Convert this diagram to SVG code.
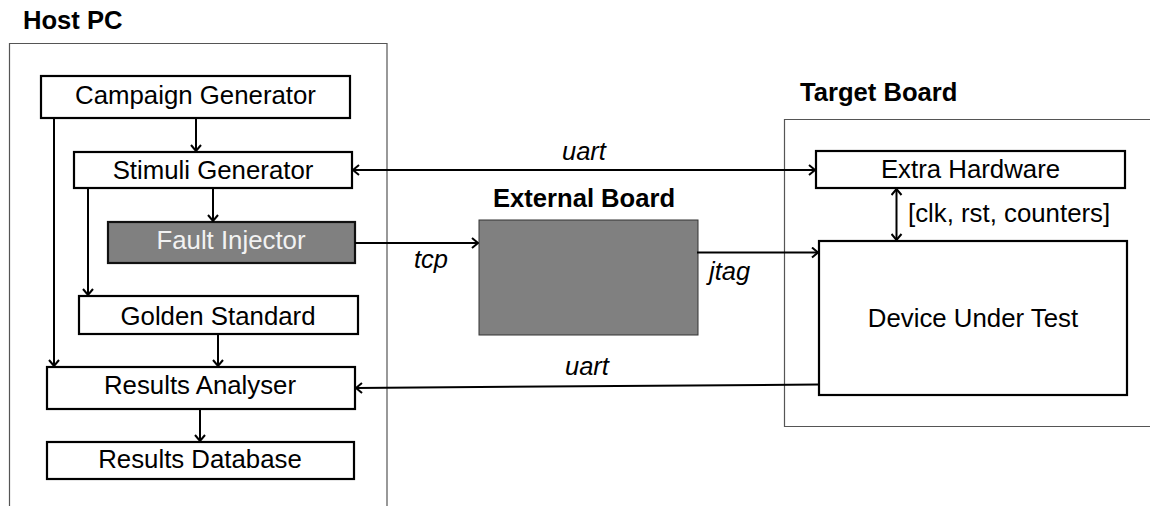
<svg xmlns="http://www.w3.org/2000/svg" width="1150" height="506" viewBox="0 0 1150 506">
<style>
text{font-family:"Liberation Sans",Arial,sans-serif;fill:#000}
.lbl{font-size:25.8px;text-anchor:middle}
.title{font-size:25.6px;font-weight:bold}
.it{font-size:25.5px;font-style:italic}
.node{fill:#fff;stroke:#000;stroke-width:2.2}
.dark{fill:#808080;stroke:#111;stroke-width:2.2}
.cont{fill:none;stroke:#555;stroke-width:1.2}
.conn{fill:none;stroke:#000;stroke-width:2}
</style>
<defs>
<marker id="ah" viewBox="0 0 12 12" refX="11" refY="6" markerWidth="12" markerHeight="12" markerUnits="userSpaceOnUse" orient="auto-start-reverse">
<path d="M5,1 L11,6 L5,11" fill="none" stroke="#000" stroke-width="2"/>
</marker>
</defs>
<g id="host-pc">
<path class="cont" d="M9.5,506 V43.5 H387 V506"/>
<text class="title" x="23" y="29">Host PC</text>
</g>
<g id="target-board">
<path class="cont" d="M1152,119.5 H784.5 V426.5 H1152"/>
<text class="title" x="800" y="101">Target Board</text>
</g>
<g id="campaign-generator">
<rect class="node" x="41" y="76" width="309" height="42"/>
<text class="lbl" x="195.5" y="104">Campaign Generator</text>
</g>
<g id="stimuli-generator">
<rect class="node" x="74" y="152" width="278" height="36"/>
<text class="lbl" x="213" y="179">Stimuli Generator</text>
</g>
<g id="fault-injector">
<rect class="dark" x="108" y="222" width="247" height="41"/>
<text class="lbl" x="231" y="249" style="fill:#f2f2f2">Fault Injector</text>
</g>
<g id="golden-standard">
<rect class="node" x="79" y="296" width="279" height="38"/>
<text class="lbl" x="218" y="325">Golden Standard</text>
</g>
<g id="results-analyser">
<rect class="node" x="47" y="367" width="308" height="42"/>
<text class="lbl" x="200" y="394">Results Analyser</text>
</g>
<g id="results-database">
<rect class="node" x="47" y="442" width="307" height="37"/>
<text class="lbl" x="200" y="468">Results Database</text>
</g>
<g id="external-board">
<text class="title" x="493" y="207">External Board</text>
<rect x="479" y="220" width="219" height="115" fill="#808080" stroke="#333" stroke-width="1"/>
</g>
<g id="extra-hardware">
<rect class="node" x="816" y="151" width="309" height="37"/>
<text class="lbl" x="970.5" y="178">Extra Hardware</text>
</g>
<g id="device-under-test">
<rect class="node" x="819" y="241" width="308" height="154"/>
<text class="lbl" x="973" y="327">Device Under Test</text>
</g>
<g id="connectors">
<line class="conn" x1="196" y1="118" x2="196" y2="151" marker-end="url(#ah)"/>
<line class="conn" x1="54" y1="118" x2="54" y2="366" marker-end="url(#ah)"/>
<line class="conn" x1="213" y1="188" x2="213" y2="221" marker-end="url(#ah)"/>
<line class="conn" x1="88" y1="188" x2="88" y2="295" marker-end="url(#ah)"/>
<line class="conn" x1="218" y1="334" x2="218" y2="366" marker-end="url(#ah)"/>
<line class="conn" x1="200" y1="409" x2="200" y2="441" marker-end="url(#ah)"/>
<line class="conn" x1="353" y1="170" x2="815" y2="170" marker-start="url(#ah)" marker-end="url(#ah)"/>
<line class="conn" x1="355" y1="243" x2="478" y2="243" marker-end="url(#ah)"/>
<line class="conn" x1="697" y1="252.5" x2="818" y2="252.5" marker-end="url(#ah)"/>
<line class="conn" x1="819" y1="384.5" x2="356" y2="388" marker-end="url(#ah)"/>
<line class="conn" x1="896.5" y1="189" x2="896.5" y2="240" marker-start="url(#ah)" marker-end="url(#ah)"/>
<text class="it" x="562" y="160">uart</text>
<text class="it" x="414" y="268">tcp</text>
<text class="it" x="709" y="280">jtag</text>
<text class="it" x="565" y="375">uart</text>
<text x="908" y="222" style="font-size:25.8px">[clk, rst, counters]</text>
</g>
</svg>
